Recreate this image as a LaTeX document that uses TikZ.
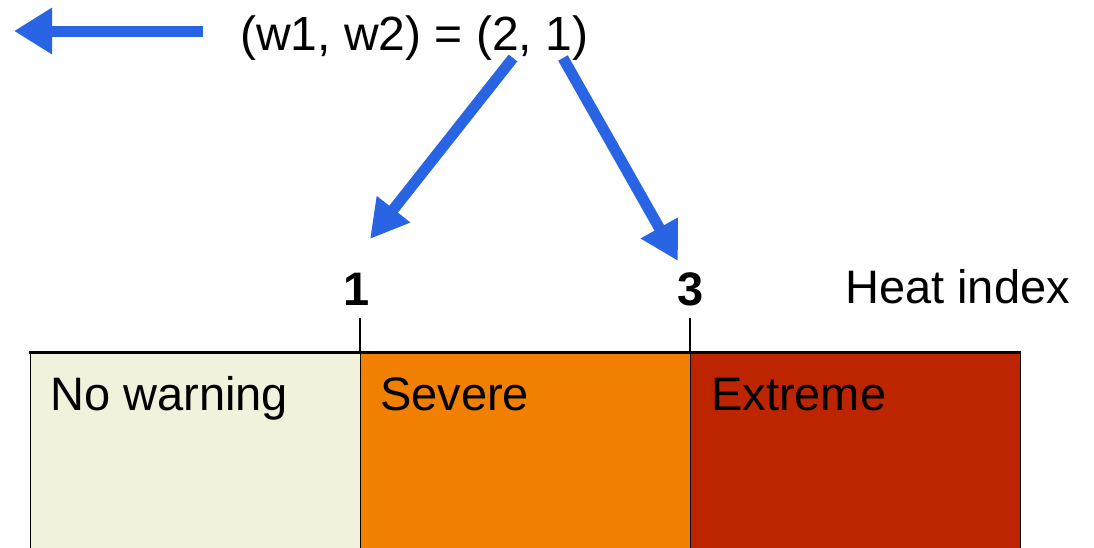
\documentclass[tikz,border=0pt]{standalone}
\usepackage{fontspec}
\setmainfont{Liberation Sans}
\usetikzlibrary{arrows.meta}
\definecolor{arrowblue}{RGB}{40,100,228}
\definecolor{beige}{RGB}{242,241,220}
\definecolor{orangeband}{RGB}{242,128,0}
\definecolor{redband}{RGB}{189,36,0}
\tikzset{
  bigtext/.style={font=\fontsize{47}{56}\selectfont, inner sep=0pt},
  bluearrow/.style={draw=arrowblue, line width=11pt, -{Triangle[length=38pt,width=40pt]}},
  band/.style={draw=black, line width=1pt},
  tickline/.style={draw=black, line width=1.2pt},
}
\begin{document}
\begin{tikzpicture}[x=1pt,y=-1pt]
\useasboundingbox (0,0) rectangle (1094,547);
\begin{scope}
\clip (0,0) rectangle (1094,547);
% bands
\path[band, fill=beige] (30,352) rectangle (360,600);
\path[band, fill=orangeband] (360,352) rectangle (690,600);
\path[band, fill=redband] (690,352) rectangle (1020,600);
\draw[line width=3pt] (29,352) -- (1021,352);
\end{scope}
% ticks
\draw[tickline] (360,318) -- (360,352);
\draw[tickline] (690,318) -- (690,352);
% band labels
\node[bigtext, anchor=base west] (nw) at (50,410) {No warning};
\node[bigtext, anchor=base west] (sv) at (380,410) {Severe};
\node[bigtext, anchor=base west] (ex) at (711,410) {Extreme};
% axis labels
\node[bigtext, anchor=base, font=\fontsize{47}{56}\selectfont\bfseries] (one) at (357,305) {1};
\node[bigtext, anchor=base, font=\fontsize{47}{56}\selectfont\bfseries] (three) at (691,305) {3};
\node[bigtext, anchor=base west] (hi) at (845,303) {Heat index};
% formula
\node[bigtext, anchor=base west, font=\fontsize{48}{56}\selectfont] (f) at (240,50) {(w1, w2) = (2, 1)};
% arrows
\coordinate (lstart) at (203,31);
\coordinate (ltip) at (14,31);
\draw[bluearrow, -{Triangle[length=38pt,width=44pt]}] (lstart) -- (ltip);
\coordinate (a1s) at (513,58);
\coordinate (a1t) at (370,239);
\coordinate (a2s) at (563,58);
\coordinate (a2t) at (678,261);
\draw[bluearrow] (a1s) -- (a1t);
\draw[bluearrow] (a2s) -- (a2t);
\end{tikzpicture}
\end{document}
